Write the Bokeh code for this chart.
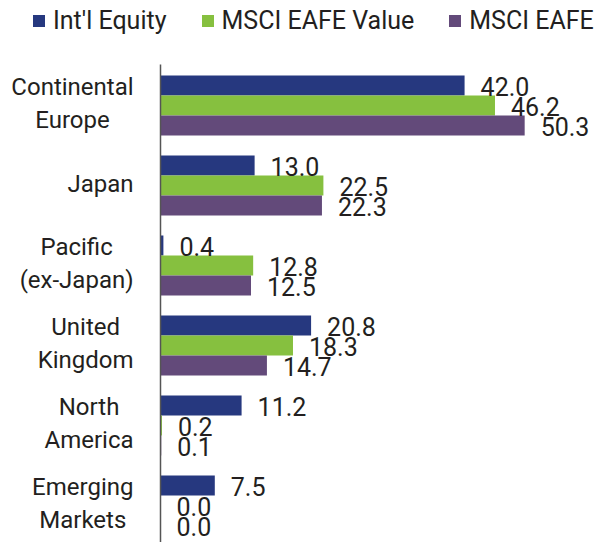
from bokeh.plotting import figure
from bokeh.models import ColumnDataSource, Range1d, LabelSet, Legend, LegendItem
from bokeh.core.properties import value
from bokeh.embed import file_html
from bokeh.resources import INLINE
import numpy as np

categories = ["Continental\nEurope", "Japan", "Pacific\n(ex-Japan)", "United\nKingdom",
              "North\nAmerica", "Emerging\nMarkets"]
series_names = ["Int'l Equity", "MSCI EAFE Value", "MSCI EAFE"]
intl_equity = [42.0, 13.0, 0.4, 20.8, 11.2, 7.5]
eafe_value = [46.2, 22.5, 12.8, 18.3, 0.2, 0.0]
eafe = [50.3, 22.3, 12.5, 14.7, 0.1, 0.0]
colors = ["#26387f", "#86c03f", "#634a7a"]

FONT = "Roboto"
TXT = "#231f20"
CAT_SIZE = 24

# approximate Roboto advance widths (em) used to centre the lines of each category label
ROBOTO_EM = {" ": 0.248, "(": 0.342, ")": 0.348, "-": 0.276,
             "A": 0.652, "C": 0.652, "E": 0.568, "J": 0.552, "K": 0.627, "M": 0.873,
             "N": 0.713, "P": 0.631, "U": 0.648,
             "a": 0.544, "c": 0.523, "d": 0.561, "e": 0.529, "f": 0.347, "g": 0.561,
             "h": 0.552, "i": 0.242, "k": 0.507, "l": 0.242, "m": 0.876, "n": 0.552,
             "o": 0.570, "p": 0.561, "r": 0.338, "s": 0.516, "t": 0.326, "u": 0.552,
             "x": 0.495}


def text_px(s):
    return sum(ROBOTO_EM.get(ch, 0.55) for ch in s) * CAT_SIZE


n = len(categories)
pos = np.arange(n)[::-1].astype(float)  # first category at top

PX_X = 7.24   # pixels per percentage point
PX_Y = 80.0   # pixels per category slot
y_lo = -0.5 + 3 / PX_Y
y_axis_top = n - 0.5 + 1 / PX_Y
y_hi = y_axis_top + 64 / PX_Y

p = figure(width=597, height=542, output_backend="svg", toolbar_location=None,
           x_range=Range1d(-160 / PX_X, 437 / PX_X), y_range=Range1d(y_lo, y_hi))
p.min_border = 0
p.outline_line_color = None
p.xaxis.visible = False
p.yaxis.visible = False
p.xgrid.visible = False
p.ygrid.visible = False
p.background_fill_color = "white"
p.border_fill_color = "white"

offsets = [0.25, 0.0, -0.25]
all_series = [intl_equity, eafe_value, eafe]
renderers = []
for vals, off, col in zip(all_series, offsets, colors):
    src = ColumnDataSource(dict(
        y=pos + off, v=vals, t=[f"{x:.1f}" for x in vals]))
    r = p.hbar(y="y", right="v", left=0, height=0.25, source=src,
               fill_color=col, line_color=None)
    renderers.append(r)
    p.add_layout(LabelSet(x="v", y="y", text="t", source=src, x_offset=16, y_offset=-1,
                          text_align="left", text_baseline="middle",
                          text_font=value(FONT), text_font_size="25px", text_color=TXT))

# category labels: each line centred, block right edge a fixed gap left of the axis
GAP = 27
LINE = 33
rows = dict(x=[], y=[], t=[], xo=[], yo=[])
for c, yv in zip(categories, pos):
    lines = c.split("\n")
    w = max(text_px(s) for s in lines)
    k = len(lines)
    for j, s in enumerate(lines):
        rows["x"].append(0.0)
        rows["y"].append(yv)
        rows["t"].append(s)
        rows["xo"].append(-(GAP + w / 2))
        rows["yo"].append(((k - 1) / 2 - j) * LINE + 2)
cat_src = ColumnDataSource(rows)
p.add_layout(LabelSet(x="x", y="y", text="t", source=cat_src, x_offset="xo", y_offset="yo",
                      text_align="center", text_baseline="middle",
                      text_font=value(FONT), text_font_size=f"{CAT_SIZE}px", text_color=TXT))

# category axis line
p.segment(x0=[0], y0=[y_lo], x1=[0], y1=[y_axis_top], line_color="#555555", line_width=1.5)

legend = Legend(items=[LegendItem(label=nm, renderers=[r]) for nm, r in zip(series_names, renderers)],
                orientation="horizontal", location=(31, 507),
                glyph_width=15, glyph_height=15, label_standoff=7, spacing=33,
                padding=0, margin=0, border_line_color=None, background_fill_alpha=0,
                label_text_font=FONT, label_text_font_size="25px", label_text_color=TXT)
p.add_layout(legend, "center")

open("out.html", "w").write(file_html(p, INLINE))
